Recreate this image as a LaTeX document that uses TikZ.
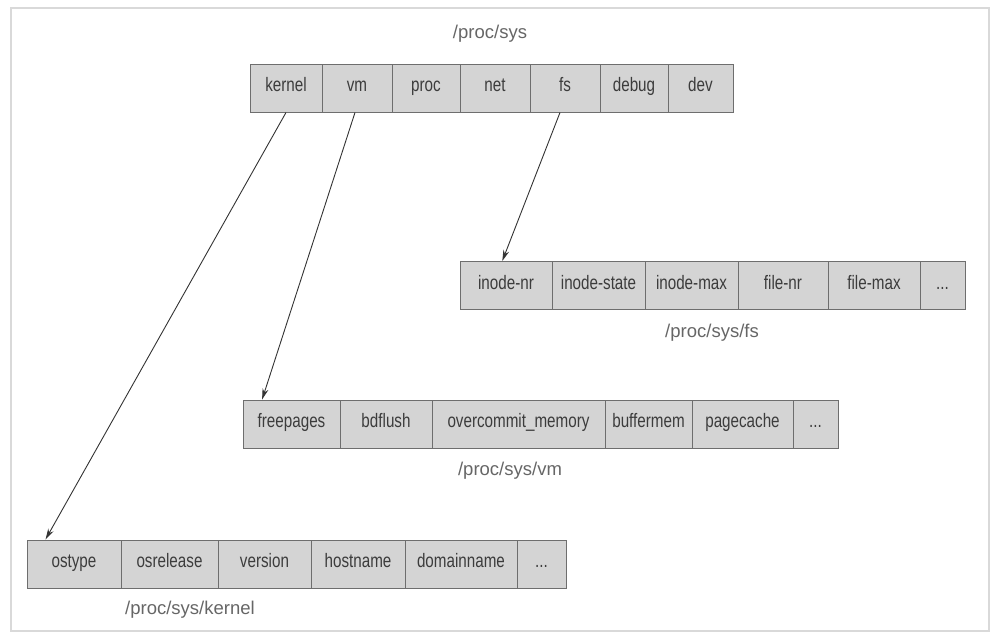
\documentclass[tikz,border=0pt]{standalone}
\usepackage{fontspec}
\setmainfont{Liberation Sans}
\newfontfamily\cellfont[FakeStretch=0.78]{Liberation Sans}
\usetikzlibrary{arrows.meta,calc}

\definecolor{cellfill}{HTML}{D4D4D4}
\definecolor{cellline}{HTML}{6E6E6E}
\definecolor{celltext}{HTML}{3C3C3C}
\definecolor{titletext}{HTML}{666666}

\tikzset{
  cell/.style={draw=cellline, line width=1pt, fill=cellfill, text=celltext,
    minimum height=48pt, inner sep=0pt, text height=10pt, text depth=3pt,
    font=\cellfont\fontsize{19.5}{23}\selectfont},
  rowtitle/.style={text=titletext, inner sep=0pt, font=\fontsize{18.5}{22}\selectfont},
  link/.style={draw=black!80, line width=0.9pt, -{Stealth[length=11pt,width=6pt]}}
}

\begin{document}
\begin{tikzpicture}[x=1pt,y=-1pt]
  \useasboundingbox (0,0) rectangle (993,638);
  % outer frame
  \draw[black!15, line width=1.2pt] (11,8) rectangle (989,631);

  % /proc/sys
  \node[rowtitle] (t-sys) at (490,34) {/proc/sys};
  \node[cell, minimum width=72pt] (kernel) at (286,88)   {kernel};
  \node[cell, minimum width=70pt] (vm)     at (357,88)   {vm};
  \node[cell, minimum width=68pt] (proc)   at (426,88)   {proc};
  \node[cell, minimum width=70pt] (net)    at (495,88)   {net};
  \node[cell, minimum width=70pt] (fs)     at (565,88)   {fs};
  \node[cell, minimum width=68pt] (debug)  at (634,88)   {debug};
  \node[cell, minimum width=65pt] (dev)    at (700.5,88) {dev};

  % /proc/sys/fs
  \node[cell, minimum width=92pt] (inodenr)    at (506,285.5)   {inode-nr};
  \node[cell, minimum width=93pt] (inodestate) at (598.5,285.5) {inode-state};
  \node[cell, minimum width=93pt] (inodemax)   at (691.5,285.5) {inode-max};
  \node[cell, minimum width=90pt] (filenr)     at (783,285.5)   {file-nr};
  \node[cell, minimum width=92pt] (filemax)    at (874,285.5)   {file-max};
  \node[cell, minimum width=45pt] (fsmore)     at (942.5,285.5) {...};
  \node[rowtitle] (t-fs) at (712,333) {/proc/sys/fs};

  % /proc/sys/vm
  \node[cell, minimum width=97pt]  (freepages)  at (291.5,424) {freepages};
  \node[cell, minimum width=92pt]  (bdflush)    at (386,424)   {bdflush};
  \node[cell, minimum width=173pt] (overcommit) at (518.5,424) {overcommit\_memory};
  \node[cell, minimum width=87pt]  (buffermem)  at (648.5,424) {buffermem};
  \node[cell, minimum width=101pt] (pagecache)  at (742.5,424) {pagecache};
  \node[cell, minimum width=45pt]  (vmmore)     at (815.5,424) {...};
  \node[rowtitle] (t-vm) at (510,471) {/proc/sys/vm};

  % /proc/sys/kernel
  \node[cell, minimum width=94pt]  (ostype)     at (74,564)    {ostype};
  \node[cell, minimum width=97pt]  (osrelease)  at (169.5,564) {osrelease};
  \node[cell, minimum width=93pt]  (version)    at (264.5,564) {version};
  \node[cell, minimum width=94pt]  (hostname)   at (358,564)   {hostname};
  \node[cell, minimum width=112pt] (domainname) at (461,564)   {domainname};
  \node[cell, minimum width=49pt]  (kernelmore) at (541.5,564) {...};
  \node[rowtitle] (t-kernel) at (190,610) {/proc/sys/kernel};

  % links from /proc/sys entries to their directories
  \draw[link] (kernel.south) -- ($(ostype.north west)!0.2!(ostype.north east)$);
  \draw[link] ($(vm.south)+(-2,0)$) -- ($(freepages.north west)!0.2!(freepages.north east)$);
  \draw[link] ($(fs.south)+(-5,0)$) -- ($(inodenr.north west)!0.46!(inodenr.north east)$);
\end{tikzpicture}
\end{document}
